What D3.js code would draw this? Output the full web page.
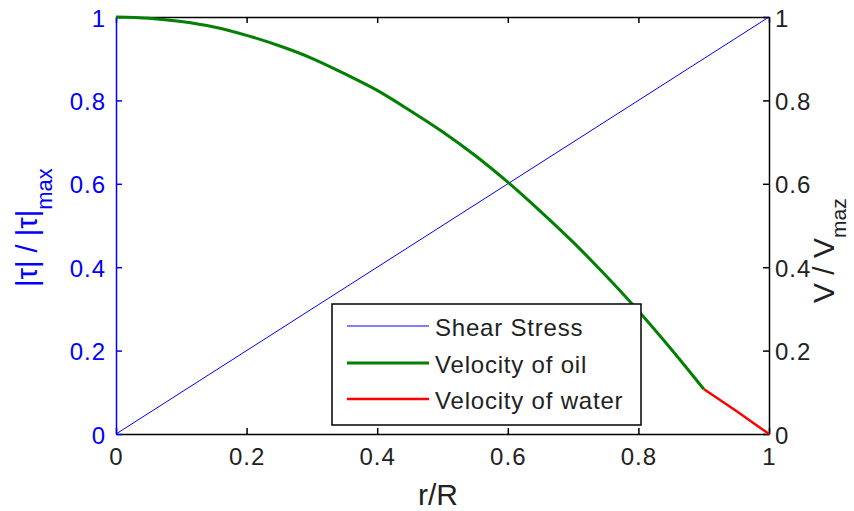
<!DOCTYPE html>
<html>
<head>
<meta charset="utf-8">
<script src="https://cdn.jsdelivr.net/npm/d3@7"></script>
<style>
  html, body { margin: 0; padding: 0; background: #fff; }
  svg { display: block; }
  text { font-family: "Liberation Sans", Arial, sans-serif; }
</style>
</head>
<body>
<svg id="chart" width="854" height="511"></svg>
<script>
// ---- data ----
const xTicks = [0, 0.2, 0.4, 0.6, 0.8, 1];
const yTicks = [0, 0.2, 0.4, 0.6, 0.8, 1];
const xTickLabels = ["0", "0.2", "0.4", "0.6", "0.8", "1"];
const yTickLabels = ["0", "0.2", "0.4", "0.6", "0.8", "1"];

const shearR = [0, 1];
const shearVal = [0, 1];

const oilR = [0, 0.05, 0.1, 0.15, 0.2, 0.25, 0.3, 0.35, 0.4, 0.45, 0.5, 0.55, 0.6, 0.65, 0.7, 0.75, 0.8, 0.85, 0.9];
const oilVal = [1.000, 0.997, 0.989, 0.976, 0.956, 0.931, 0.901, 0.864, 0.824, 0.776, 0.725, 0.668, 0.604, 0.534, 0.460, 0.380, 0.295, 0.204, 0.108];

const waterR = [0.9, 0.95, 1.0];
const waterVal = [0.108, 0.055, 0.0];

const seriesNames = ["Shear Stress", "Velocity of oil", "Velocity of water"];
const seriesColors = ["#0000ff", "#008000", "#ff0000"];
const seriesWidths = [1, 3, 2.5];

// ---- layout ----
const L = 116, R = 769, T = 17, B = 434;
const svg = d3.select("#chart");
const x = d3.scaleLinear().domain([0, 1]).range([L, R]);
const yL = d3.scaleLinear().domain([0, 1]).range([B, T]);
const yR = d3.scaleLinear().domain([0, 1]).range([B, T]);

const tickLen = 6;
const fs = 24;

// bottom axis
const gB = svg.append("g").attr("transform", `translate(0,${B})`)
  .call(d3.axisBottom(x).tickValues(xTicks).tickFormat((d, i) => xTickLabels[i]).tickSizeInner(-tickLen).tickSizeOuter(0).tickPadding(0));
gB.select(".domain").attr("stroke", "#000").attr("stroke-width", 1.5);
gB.selectAll(".tick line").attr("stroke", "#000").attr("stroke-width", 1.5);
gB.selectAll(".tick text").attr("fill", "#222").attr("font-size", fs).attr("letter-spacing", 1)
  .attr("y", 31).attr("dy", null).style("font-family", "Liberation Sans, Arial, sans-serif");

// top axis
const gT = svg.append("g").attr("transform", `translate(0,${T})`)
  .call(d3.axisTop(x).tickValues(xTicks).tickFormat("").tickSizeInner(-tickLen).tickSizeOuter(0));
gT.select(".domain").attr("stroke", "#000").attr("stroke-width", 1.5);
gT.selectAll(".tick line").attr("stroke", "#000").attr("stroke-width", 1.5);

// right axis
const gR = svg.append("g").attr("transform", `translate(${R},0)`)
  .call(d3.axisRight(yR).tickValues(yTicks).tickFormat((d, i) => yTickLabels[i]).tickSizeInner(-tickLen).tickSizeOuter(0).tickPadding(0));
gR.select(".domain").attr("stroke", "#000").attr("stroke-width", 1.5);
gR.selectAll(".tick line").attr("stroke", "#000").attr("stroke-width", 1.5);
gR.selectAll(".tick text").attr("fill", "#222").attr("font-size", fs).attr("letter-spacing", 1)
  .attr("x", 6).attr("dy", 9).style("font-family", "Liberation Sans, Arial, sans-serif");

// left axis (blue)
const gL = svg.append("g").attr("transform", `translate(${L},0)`)
  .call(d3.axisLeft(yL).tickValues(yTicks).tickFormat((d, i) => yTickLabels[i]).tickSizeInner(-tickLen).tickSizeOuter(0).tickPadding(0));
gL.select(".domain").attr("stroke", "#0000ff").attr("stroke-width", 1.5);
gL.selectAll(".tick line").attr("stroke", "#0000ff").attr("stroke-width", 1.5);
gL.selectAll(".tick text").attr("fill", "#0000ff").attr("font-size", fs).attr("letter-spacing", 1)
  .attr("x", -10).attr("dy", 9).style("font-family", "Liberation Sans, Arial, sans-serif");

// ---- lines ----
const line = (ys) => d3.line().x(d => x(d[0])).y(d => ys(d[1]));
svg.append("path").datum(shearR.map((r, i) => [r, shearVal[i]]))
  .attr("d", line(yL)).attr("fill", "none").attr("stroke", seriesColors[0]).attr("stroke-width", seriesWidths[0]);
svg.append("path").datum(oilR.map((r, i) => [r, oilVal[i]]))
  .attr("d", d3.line().curve(d3.curveMonotoneX).x(d => x(d[0])).y(d => yR(d[1])))
  .attr("fill", "none").attr("stroke", seriesColors[1]).attr("stroke-width", seriesWidths[1]);
svg.append("path").datum(waterR.map((r, i) => [r, waterVal[i]]))
  .attr("d", line(yR)).attr("fill", "none").attr("stroke", seriesColors[2]).attr("stroke-width", seriesWidths[2]);

// ---- axis labels ----
svg.append("text").attr("x", 438).attr("y", 505).attr("text-anchor", "middle")
  .attr("font-size", 30).attr("fill", "#222").text("r/R");

const lt = svg.append("text").attr("transform", "translate(37,287) rotate(-90)")
  .attr("font-size", 29).attr("fill", "#0000ff");
lt.append("tspan").text("|τ| / |τ|");
lt.append("tspan").attr("dy", 15).attr("font-size", 22).text("max");

const rt = svg.append("text").attr("transform", "translate(834,303) rotate(-90)")
  .attr("font-size", 30).attr("fill", "#222");
rt.append("tspan").text("V / V");
rt.append("tspan").attr("dy", 12).attr("font-size", 21).text("maz");

// ---- legend ----
const lg = svg.append("g");
lg.append("rect").attr("x", 332).attr("y", 304).attr("width", 309).attr("height", 121)
  .attr("fill", "#fff").attr("stroke", "#000").attr("stroke-width", 1.5);
const rowY = [326, 363, 399];
seriesNames.forEach((name, i) => {
  lg.append("line").attr("x1", 347).attr("x2", 429).attr("y1", rowY[i]).attr("y2", rowY[i])
    .attr("stroke", seriesColors[i]).attr("stroke-width", seriesWidths[i]);
  lg.append("text").attr("x", 435).attr("y", rowY[i] + 10).attr("font-size", fs)
    .attr("letter-spacing", 0.8).attr("fill", "#222").text(name);
});
</script>
</body>
</html>
